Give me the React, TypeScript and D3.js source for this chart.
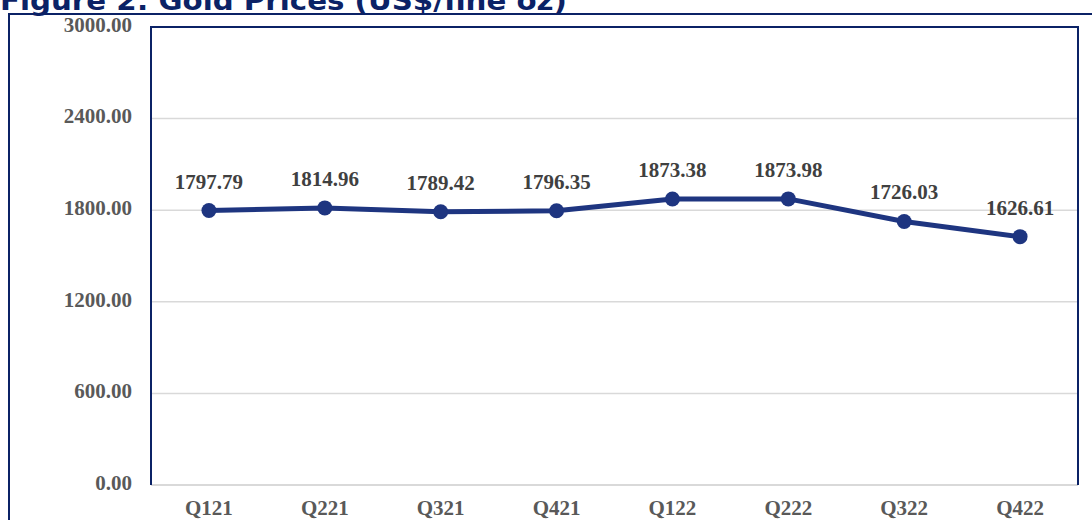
import React from 'react';
import * as d3 from 'd3';

const quarters = ['Q121', 'Q221', 'Q321', 'Q421', 'Q122', 'Q222', 'Q322', 'Q422'];
const goldPrices = [1797.79, 1814.96, 1789.42, 1796.35, 1873.38, 1873.98, 1726.03, 1626.61];
const yTicks = [0, 600, 1200, 1800, 2400, 3000];
const title = 'Figure 2: Gold Prices (US$/fine oz)';

const width = 1092;
const height = 520;
const plot = { left: 151, right: 1078, top: 27, bottom: 485 };

const navy = '#0b2266';
const lineColor = '#1e3580';
const serif = '"Liberation Serif", "Times New Roman", serif';

export default function App() {
  const x = d3.scaleBand<string>().domain(quarters).range([plot.left, plot.right]);
  const y = d3.scaleLinear().domain([0, 3000]).range([plot.bottom, plot.top]);
  const cx = (q: string) => (x(q) ?? 0) + x.bandwidth() / 2;

  const line = d3
    .line<number>()
    .x((_, i) => cx(quarters[i]))
    .y((d) => y(d));

  return (
    <svg
      width={width}
      height={height}
      style={{ position: 'absolute', left: 0, top: 0, background: '#fff' }}
    >
      {/* title, cut off at the top in the source */}
      <text
        x={0}
        y={10}
        fontFamily='Tahoma, "DejaVu Sans", Verdana, sans-serif'
        fontWeight="bold"
        fontSize={26}
        fill={navy}
        textLength={567}
        lengthAdjust="spacingAndGlyphs"
      >
        {title}
      </text>

      {/* outer frame */}
      <rect x={9} y={14} width={width + 20} height={height + 20} fill="none" stroke={navy} strokeWidth={2} />

      {/* grid */}
      {yTicks.map((t) => (
        <line
          key={t}
          x1={plot.left}
          x2={plot.right}
          y1={y(t)}
          y2={y(t)}
          stroke="#d9d9d9"
          strokeWidth={t === 0 ? 2 : 1.5}
        />
      ))}

      {/* plot area border (left, top, right) */}
      <path
        d={`M${plot.left},${plot.bottom}V${plot.top}H${plot.right}V${plot.bottom}`}
        fill="none"
        stroke={navy}
        strokeWidth={2}
      />

      {/* y tick labels */}
      {yTicks.map((t) => (
        <text
          key={t}
          x={132}
          y={y(t)}
          textAnchor="end"
          dominantBaseline="middle"
          fontFamily={serif}
          fontWeight="bold"
          fontSize={21}
          fill="#595959"
        >
          {t.toFixed(2)}
        </text>
      ))}

      {/* x labels */}
      {quarters.map((q) => (
        <text
          key={q}
          x={cx(q)}
          y={515}
          textAnchor="middle"
          fontFamily={serif}
          fontWeight="bold"
          fontSize={21}
          fill="#595959"
        >
          {q}
        </text>
      ))}

      {/* series */}
      <path d={line(goldPrices) ?? ''} fill="none" stroke={lineColor} strokeWidth={5} strokeLinejoin="round" />
      {goldPrices.map((v, i) => (
        <circle key={i} cx={cx(quarters[i])} cy={y(v)} r={7.5} fill={lineColor} />
      ))}
      {goldPrices.map((v, i) => (
        <text
          key={'l' + i}
          x={cx(quarters[i])}
          y={y(v) - 22}
          textAnchor="middle"
          fontFamily={serif}
          fontWeight="bold"
          fontSize={21}
          fill="#404040"
        >
          {v.toFixed(2)}
        </text>
      ))}
    </svg>
  );
}
